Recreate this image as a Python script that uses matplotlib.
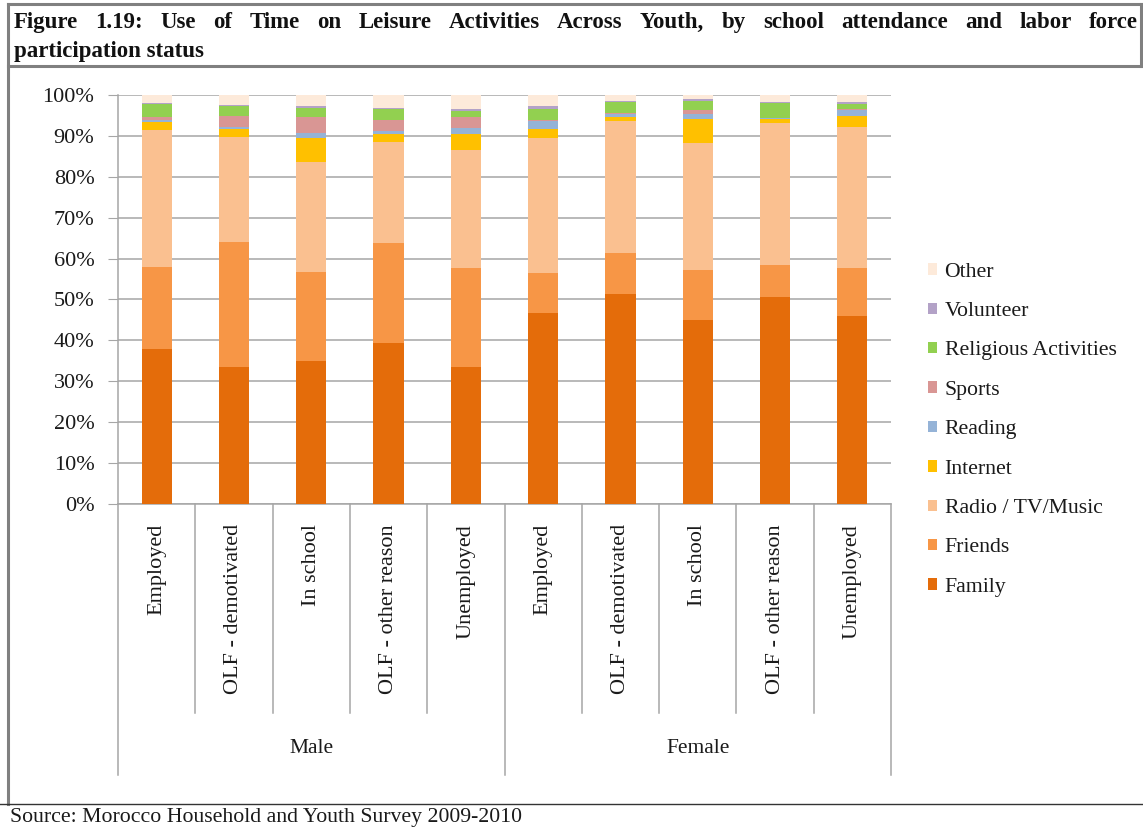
"""
Stacked bar chart: use of time on leisure activities across youth.
"""

import numpy as np
import matplotlib
matplotlib.use("Agg")
import matplotlib.pyplot as plt
from matplotlib.lines import Line2D
from matplotlib.patches import Patch

W, H = 1143, 830

groups = ["Male", "Female"]
statuses = ["Employed", "OLF - demotivated", "In school",
            "OLF - other reason", "Unemployed"]
categories = statuses * 2

# shares in percent, one value per bar (Male x5, Female x5)
family = [38.0, 33.5, 35.0, 39.3, 33.6, 46.6, 51.3, 45.0, 50.5, 46.0]
friends = [20.0, 30.6, 21.8, 24.4, 24.0, 9.8, 10.0, 12.2, 7.9, 11.8]
radio_tv = [33.4, 25.7, 26.9, 24.9, 29.0, 33.0, 32.3, 31.1, 34.8, 34.4]
internet = [2.1, 1.8, 5.7, 1.8, 3.9, 2.2, 1.1, 5.8, 1.0, 2.7]
reading = [0.3, 0.6, 1.4, 0.8, 1.4, 2.0, 0.7, 1.3, 0.1, 1.4]
sports = [0.9, 2.7, 3.9, 2.7, 2.6, 0.3, 0.2, 0.9, 0.1, 0.2]
religious = [3.0, 2.5, 2.2, 2.6, 1.7, 2.7, 2.8, 2.3, 3.7, 1.3]
volunteer = [0.4, 0.2, 0.3, 0.2, 0.3, 0.7, 0.2, 0.3, 0.2, 0.4]
other = [1.9, 2.4, 2.8, 3.3, 3.5, 2.7, 1.4, 1.1, 1.7, 1.8]

series = [
    ("Family", family, "#E46C0A"),
    ("Friends", friends, "#F79646"),
    ("Radio / TV/Music", radio_tv, "#FAC090"),
    ("Internet", internet, "#FFC000"),
    ("Reading", reading, "#95B3D7"),
    ("Sports", sports, "#D99694"),
    ("Religious Activities", religious, "#92D050"),
    ("Volunteer", volunteer, "#B3A2C7"),
    ("Other", other, "#FDEADA"),
]

serif = "Liberation Serif"
plt.rcParams["font.family"] = [serif, "DejaVu Serif"]
txt = "#1a1a1a"


def px(x, y):
    """pixel coords (from top-left) -> figure fraction"""
    return x / W, 1 - y / H


fig = plt.figure(figsize=(W / 100, H / 100), dpi=100)

# axes placed to match the pixel layout of the reference
x0, x1, y_top, y_bot = 118, 891, 95, 504
ax = fig.add_axes([x0 / W, 1 - y_bot / H, (x1 - x0) / W, (y_bot - y_top) / H])

x = np.arange(len(categories))
bottom = np.zeros(len(categories))
for name, vals, col in series:
    vals = np.array(vals)
    ax.bar(x, vals, 0.39, bottom=bottom, color=col, label=name, zorder=3)
    bottom += vals

ax.set_xlim(-0.5, len(categories) - 0.5)
ax.set_ylim(0, 100)
ax.set_yticks(np.arange(0, 101, 10))
ax.set_yticklabels([f"{v}%" for v in range(0, 101, 10)], fontsize=16,
                   color=txt)
ax.yaxis.grid(True, color="#a6a6a6", linewidth=1.1, zorder=0)
ax.tick_params(axis="y", length=7, color="#a6a6a6", pad=10)
ax.set_xticks([])
for s in ["top", "right"]:
    ax.spines[s].set_visible(False)
ax.spines["left"].set_color("#a6a6a6")
ax.spines["bottom"].set_color("#a6a6a6")
ax.spines["left"].set_linewidth(1.1)
ax.spines["bottom"].set_linewidth(1.1)

# category table below the axis
trans = ax.get_xaxis_transform()
span = y_bot - y_top
y_inner = -(713 - y_bot) / span
y_outer = -(775 - y_bot) / span
for i in range(len(categories) + 1):
    low = y_outer if i % 5 == 0 else y_inner
    ax.plot([i - 0.5, i - 0.5], [0, low], color="#a6a6a6", lw=1.1,
            transform=trans, clip_on=False)
for i, lab in enumerate(categories):
    ax.text(i, -(524 - y_bot) / span, lab, rotation=90, ha="center",
            va="top", fontsize=16, color=txt, transform=trans)
for g, name in enumerate(groups):
    ax.text(g * 5 + 2, -(748 - y_bot) / span, name, ha="center",
            va="center", fontsize=15.5, color=txt, transform=trans)

# legend (reverse of stacking order)
handles = [Patch(facecolor=c, edgecolor="none") for _, _, c in series][::-1]
labels = [n for n, _, _ in series][::-1]
fig.legend(handles, labels, loc="upper left",
           bbox_to_anchor=px(919, 254), frameon=False, fontsize=15.7,
           handlelength=0.42, handleheight=0.42, handletextpad=0.35,
           labelspacing=0.935, borderaxespad=0, labelcolor=txt)

# frame lines
frame = "#808080"
for (xa, ya), (xb, yb) in [((8, 4), (1143, 4)), ((8, 4), (8, 804)),
                           ((8, 66), (1143, 66)), ((1141, 4), (1141, 66))]:
    fa, fb = px(xa, ya), px(xb, yb)
    fig.add_artist(Line2D([fa[0], fb[0]], [fa[1], fb[1]], color=frame,
                          lw=2.2))
fa, fb = px(0, 804), px(1143, 804)
fig.add_artist(Line2D([fa[0], fb[0]], [fa[1], fb[1]], color="#333333",
                      lw=1.0))

# justified title line 1
words = ("Figure 1.19: Use of Time on Leisure Activities Across Youth, by "
         "school attendance and labor force").split()
renderer = fig.canvas.get_renderer()
tobjs = [fig.text(0, 0, w, fontsize=16.5, weight="bold", color="#111111",
                  va="baseline")
         for w in words]
widths = [t.get_window_extent(renderer).width for t in tobjs]
left_px, right_px = 14, 1138
gap = (right_px - left_px - sum(widths)) / (len(words) - 1)
cur = left_px
for t, wd in zip(tobjs, widths):
    t.set_position(px(cur, 28))
    cur += wd + gap
fig.text(*px(14, 57), "participation status", fontsize=16.5, weight="bold",
         color="#111111", va="baseline")

fig.text(*px(10, 817), "Source: Morocco Household and Youth Survey 2009-2010",
         fontsize=15.7, color=txt, va="center")

fig.savefig("out.png", dpi=100)
